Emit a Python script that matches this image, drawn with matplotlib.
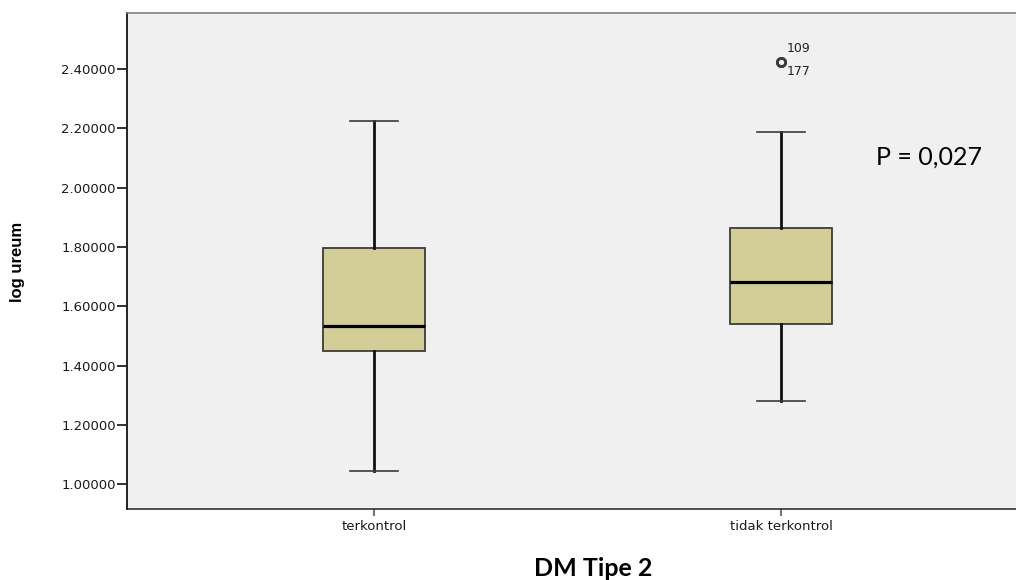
import matplotlib
matplotlib.use("Agg")
import matplotlib.pyplot as plt

# box statistics (log ureum by DM control group)
groups = ["terkontrol", "tidak terkontrol"]
whisker_low = [1.044, 1.280]
q1 = [1.449, 1.540]
median = [1.533, 1.681]
q3 = [1.796, 1.864]
whisker_high = [2.224, 2.187]
outliers = [[], [2.424, 2.424]]
outlier_ids = [[], ["109", "177"]]

y_ticks = [1.0, 1.2, 1.4, 1.6, 1.8, 2.0, 2.2, 2.4]

BG = "#f0f0f0"
BOX_FILL = "#d3ce98"

fig = plt.figure(figsize=(10.16, 5.8), dpi=100)
ax = fig.add_axes([127 / 1016, 71 / 580, 901 / 1016, 496 / 580])
ax.set_facecolor(BG)

stats = []
for i, name in enumerate(groups):
    stats.append({
        "label": name,
        "whislo": whisker_low[i],
        "q1": q1[i],
        "med": median[i],
        "q3": q3[i],
        "whishi": whisker_high[i],
        "fliers": outliers[i],
    })

ax.bxp(stats, positions=[1, 2], widths=0.25, capwidths=0.12,
       patch_artist=True,
       boxprops=dict(facecolor=BOX_FILL, edgecolor="#3c3c34", linewidth=1.3),
       medianprops=dict(color="black", linewidth=2.3),
       whiskerprops=dict(color="#111111", linewidth=2.0),
       capprops=dict(color="#3a3a3a", linewidth=1.2),
       flierprops=dict(marker="o", markerfacecolor="none",
                       markeredgecolor="#3a3a3a", markersize=6,
                       markeredgewidth=1.9))

# case numbers next to the outlier
for i, ids in enumerate(outlier_ids):
    if not ids:
        continue
    ax.annotate(ids[0], xy=(i + 1, outliers[i][0]), xytext=(6, 13),
                textcoords="offset pixels", fontsize=9, color="#222222",
                ha="left", va="center")
    ax.annotate(ids[1], xy=(i + 1, outliers[i][1]), xytext=(6, -10),
                textcoords="offset pixels", fontsize=9, color="#222222",
                ha="left", va="center")

ax.set_xlim(0.393, 2.607)
ax.set_ylim(0.916, 2.589)
ax.set_yticks(y_ticks)
ax.set_yticklabels([f"{v:.5f}" for v in y_ticks])
ax.set_xticks([1, 2])
ax.set_xticklabels(groups)

ax.tick_params(axis="y", length=7, width=1.3, color="#222222", pad=1,
               labelsize=9.5, labelcolor="#1a1a1a")
ax.tick_params(axis="x", length=5, width=1.5, color="#777777", pad=3,
               labelsize=9.5, labelcolor="#1a1a1a")

ax.spines["left"].set_color("#222222")
ax.spines["left"].set_linewidth(1.4)
ax.spines["bottom"].set_color("#222222")
ax.spines["bottom"].set_linewidth(1.1)
ax.spines["top"].set_color("#808080")
ax.spines["top"].set_linewidth(1.2)
ax.spines["right"].set_visible(False)

fig.text(18 / 1016, 1 - 262 / 580, "log ureum", rotation=90,
         ha="center", va="center", fontsize=12, fontweight="bold",
         family=["Liberation Sans", "DejaVu Sans"])

fig.text(929 / 1016, 1 - 165 / 580, "P = 0,027", ha="center",
         va="baseline", fontsize=18, family=["Lato", "DejaVu Sans"])

fig.text(593 / 1016, 1 - 576 / 580, "DM Tipe 2", ha="center",
         va="baseline", fontsize=18, fontweight="bold",
         family=["Lato", "DejaVu Sans"])

fig.savefig("out.png", dpi=100, facecolor="white")
